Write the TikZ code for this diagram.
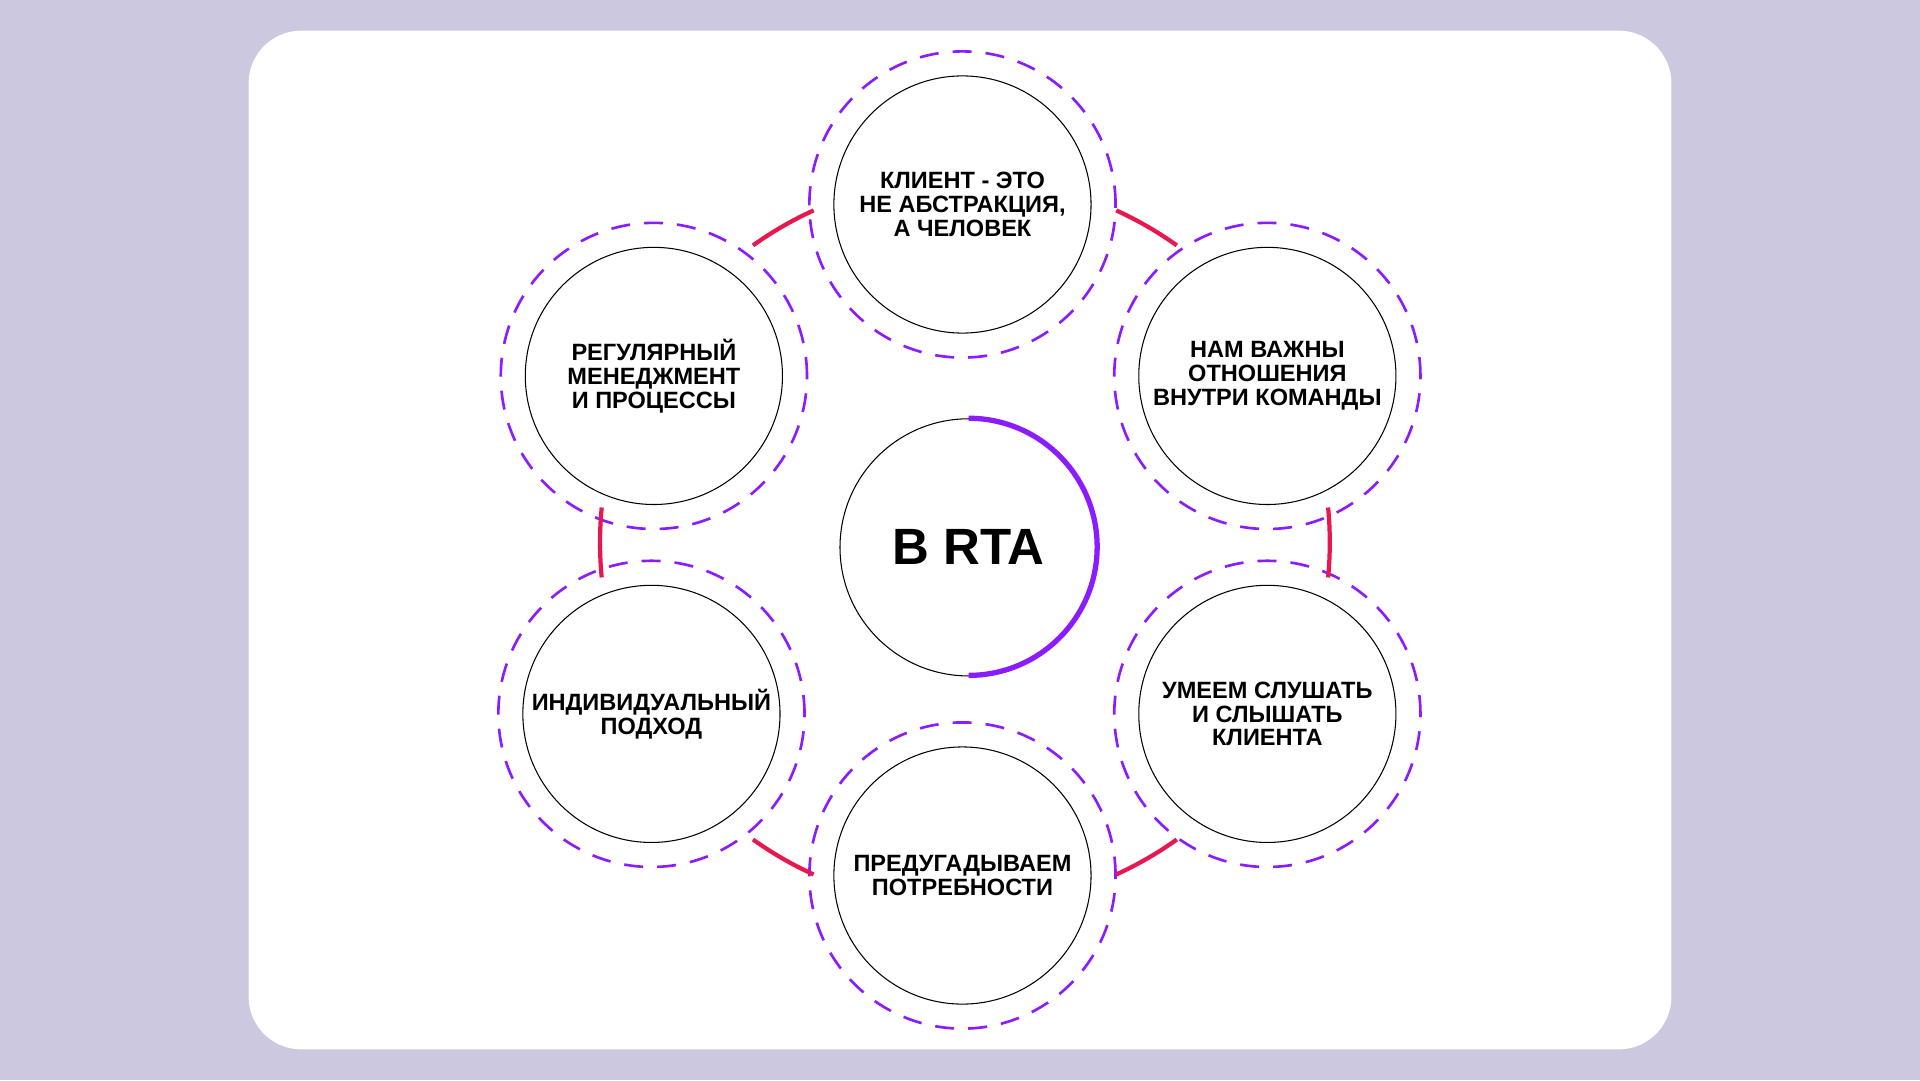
\documentclass[tikz,border=0pt]{standalone}
\usepackage{fontspec}
\setmainfont{Liberation Sans}
\usetikzlibrary{calc}
\definecolor{lavender}{HTML}{CBC8E0}
\definecolor{violet}{HTML}{8A1CFF}
\definecolor{raspberry}{HTML}{E8174F}
\tikzset{
  value/.style={circle, draw=black, line width=0.3pt, minimum size=2.57cm, inner sep=0pt,
    align=center, font=\fontsize{6.7}{6.8}\selectfont\bfseries},
  ring/.style={circle, draw=violet, line width=0.75pt, dash pattern=on 5.4pt off 4pt,
    minimum size=3.06cm, inner sep=0pt},
  link/.style={draw=raspberry, line width=1.2pt},
}
\begin{document}
\begin{tikzpicture}[x=0.012245cm, y=0.012245cm]
	% Frame
	\fill[lavender] (0,0) rectangle (1568,882);
	\fill[white, rounded corners=15pt] (203,25) rectangle (1365,857);

	% Centre
	\node[value, font=\fontsize{14.5}{15}\selectfont\bfseries] (rta) at (791,435) {В RTA};
	\draw[violet, line width=1.5pt] (rta.north) arc[start angle=90, end angle=-90, radius=105];

	% Values
	\foreach \name/\pos/\txt in {
		client/{(786,715)}/{КЛИЕНТ - ЭТО\\НЕ АБСТРАКЦИЯ,\\А ЧЕЛОВЕК},
		team/{(1035,575)}/{НАМ ВАЖНЫ\\ОТНОШЕНИЯ\\ВНУТРИ КОМАНДЫ},
		listen/{(1035,299)}/{УМЕЕМ СЛУШАТЬ\\И СЛЫШАТЬ\\КЛИЕНТА},
		needs/{(786,167)}/{ПРЕДУГАДЫВАЕМ\\ПОТРЕБНОСТИ},
		person/{(532,299)}/{ИНДИВИДУАЛЬНЫЙ\\ПОДХОД},
		process/{(534,575)}/{РЕГУЛЯРНЫЙ\\МЕНЕДЖМЕНТ\\И ПРОЦЕССЫ}}
	{
		\node[value] (\name) at \pos {\txt};
		\node[ring] (\name-ring) at (\name) {};
	}

	% Links
	\foreach \ang in {60,0,-60,-120,180,120}
		\draw[link] ($(788,439)+(\ang-5.5:298)$) arc[start angle=\ang-5.5, end angle=\ang+5.5, radius=298];
\end{tikzpicture}
\end{document}
